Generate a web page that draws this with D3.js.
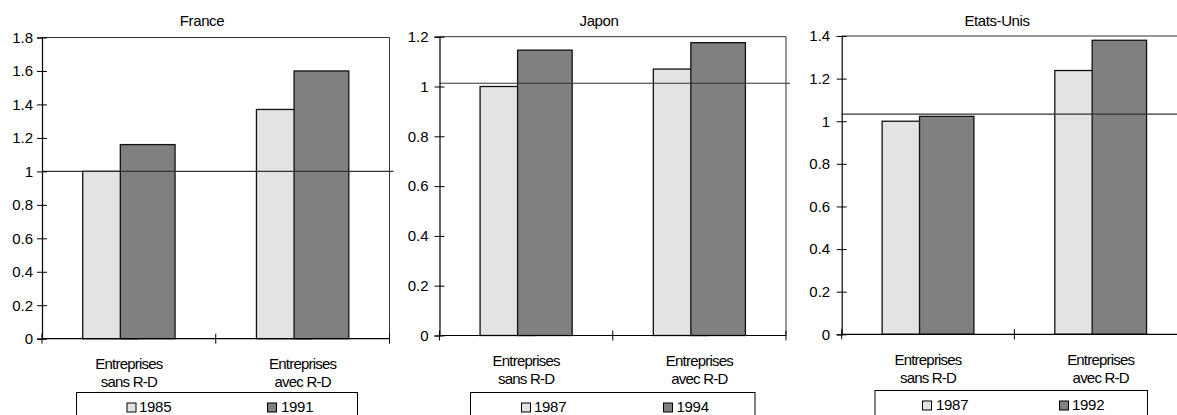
<!DOCTYPE html>
<html>
<head>
<meta charset="utf-8">
<script src="https://cdn.jsdelivr.net/npm/d3@7/dist/d3.min.js"></script>
<style>
  html, body { margin: 0; padding: 0; background: #fff; }
  svg { display: block; font-family: "Liberation Sans", Arial, sans-serif; }
</style>
</head>
<body>
<svg id="chart" width="1177" height="415"></svg>
<script>
// Categories shared by the three country panels (two text lines each)
const categories = ["sans", "avec"];
const categoryLines = [["Entreprises", "sans R-D"], ["Entreprises", "avec R-D"]];

// France
const franceYears = ["1985", "1991"];
const franceFirst = [1.00, 1.37];
const franceSecond = [1.16, 1.60];
const franceTicks = [0, 0.2, 0.4, 0.6, 0.8, 1, 1.2, 1.4, 1.6, 1.8];
const franceRef = 1.0;

// Japon
const japonYears = ["1987", "1994"];
const japonFirst = [1.00, 1.07];
const japonSecond = [1.146, 1.176];
const japonTicks = [0, 0.2, 0.4, 0.6, 0.8, 1, 1.2];
const japonRef = 1.013;

// Etats-Unis
const usYears = ["1987", "1992"];
const usFirst = [1.00, 1.238];
const usSecond = [1.023, 1.38];
const usTicks = [0, 0.2, 0.4, 0.6, 0.8, 1, 1.2, 1.4];
const usRef = 1.033;

const seriesColors = ["#e3e3e3", "#808080"];

const panels = [
  { title: "France", years: franceYears, first: franceFirst, second: franceSecond,
    ticks: franceTicks, ref: franceRef, pad: 4,
    box: { left: 42, right: 389.5, top: 37.5, bottom: 338.7 }, titleX: 202,
    legend: { x: 76.5, w: 281, y: 392.5, k1: 127, t1: 139, k2: 267.5, t2: 281 }, catY: 368.5 },
  { title: "Japon", years: japonYears, first: japonFirst, second: japonSecond,
    ticks: japonTicks, ref: japonRef, pad: 6,
    box: { left: 439.5, right: 786, top: 36.7, bottom: 335.5 }, titleX: 599,
    legend: { x: 470.5, w: 284.5, y: 392.5, k1: 521.5, t1: 534, k2: 663.5, t2: 676.5 }, catY: 365.5 },
  { title: "Etats-Unis", years: usYears, first: usFirst, second: usSecond,
    ticks: usTicks, ref: usRef, pad: 6.5,
    box: { left: 841.7, right: 1187, top: 36, bottom: 334.3 }, titleX: 997,
    legend: { x: 875, w: 272.5, y: 390.5, k1: 922.5, t1: 936, k2: 1059.5, t2: 1072 }, catY: 364.5 }
];

const svg = d3.select("#chart");

panels.forEach(p => {
  const g = svg.append("g");
  const b = p.box;
  const ymax = p.ticks[p.ticks.length - 1];

  const x = d3.scaleBand().domain(categories).range([b.left, b.right]).padding(0);
  const y = d3.scaleLinear().domain([0, ymax]).range([b.bottom, b.top]);
  const bw = x.bandwidth();

  // Plot area frame (top and right edges)
  g.append("path")
    .attr("d", `M${b.left},${y(ymax)}H${b.right}V${y(0)}`)
    .attr("fill", "none").attr("stroke", "#333").attr("stroke-width", 1);

  // Overlapping bars: each bar is 31.5% of the band, offset by 21.6%
  const barW = bw * 0.315;
  const step = bw * 0.2165;
  const start = (bw - (barW + step)) / 2;
  const series = [p.first, p.second];
  series.forEach((vals, si) => {
    g.selectAll(null).data(categories.map((c, i) => ({ c, v: vals[i] })))
      .enter().append("rect")
      .attr("x", d => x(d.c) + start + si * step)
      .attr("width", barW)
      .attr("y", d => y(d.v))
      .attr("height", d => y(0) - y(d.v))
      .attr("fill", seriesColors[si])
      .attr("stroke", "#111")
      .attr("stroke-width", 1.3);
  });

  // Reference line
  g.append("line")
    .attr("x1", b.left).attr("x2", Math.min(b.right + 4, 1177))
    .attr("y1", y(p.ref)).attr("y2", y(p.ref))
    .attr("stroke", "#333").attr("stroke-width", 1.2);

  // Y axis
  const yAxis = g.append("g")
    .attr("transform", `translate(${b.left},0)`)
    .call(d3.axisLeft(y).tickValues(p.ticks).tickFormat(d3.format("~g"))
      .tickSizeOuter(0).tickSize(5).tickPadding(p.pad));
  yAxis.select(".domain").attr("stroke", "#000").attr("stroke-width", 1.2);
  yAxis.selectAll(".tick line").attr("x1", 5).attr("x2", -5).attr("stroke", "#000");
  yAxis.selectAll(".tick text")
    .attr("font-size", 15).attr("fill", "#000")
    .attr("font-family", "'Liberation Sans', Arial, sans-serif");

  // X axis baseline with ticks at band boundaries
  const xAxis = g.append("g").attr("transform", `translate(0,${y(0)})`);
  xAxis.append("line").attr("x1", b.left).attr("x2", b.right)
    .attr("stroke", "#000").attr("stroke-width", 1.2);
  const bounds = [b.left, x(categories[1]), b.right];
  xAxis.selectAll(null).data(bounds).enter().append("line")
    .attr("x1", d => d).attr("x2", d => d)
    .attr("y1", -5).attr("y2", 5).attr("stroke", "#000");

  // Category labels
  categories.forEach((c, i) => {
    const t = g.append("text")
      .attr("x", x(c) + bw / 2)
      .attr("y", p.catY)
      .attr("text-anchor", "middle")
      .attr("font-size", 15)
      .attr("letter-spacing", "-0.8px")
      .attr("fill", "#000");
    categoryLines[i].forEach((line, li) => {
      t.append("tspan").attr("x", x(c) + bw / 2).attr("dy", li === 0 ? 0 : 18.5).text(line);
    });
  });

  // Title
  g.append("text")
    .attr("x", p.titleX).attr("y", 25.5)
    .attr("text-anchor", "middle")
    .attr("font-size", 15)
    .attr("letter-spacing", "-0.4px")
    .attr("fill", "#000")
    .text(p.title);

  // Legend
  const L = p.legend;
  g.append("rect")
    .attr("x", L.x).attr("y", L.y).attr("width", L.w).attr("height", 40)
    .attr("fill", "#fff").attr("stroke", "#000").attr("stroke-width", 1);
  const keys = [[L.k1, L.t1], [L.k2, L.t2]];
  p.years.forEach((yr, i) => {
    g.append("rect")
      .attr("x", keys[i][0]).attr("y", L.y + 10.5)
      .attr("width", 9).attr("height", 9)
      .attr("fill", seriesColors[i]).attr("stroke", "#000").attr("stroke-width", 1);
    g.append("text")
      .attr("x", keys[i][1]).attr("y", L.y + 19.5)
      .attr("font-size", 15)
      .attr("letter-spacing", "-0.3px")
      .attr("fill", "#000")
      .text(yr);
  });
});
</script>
</body>
</html>
